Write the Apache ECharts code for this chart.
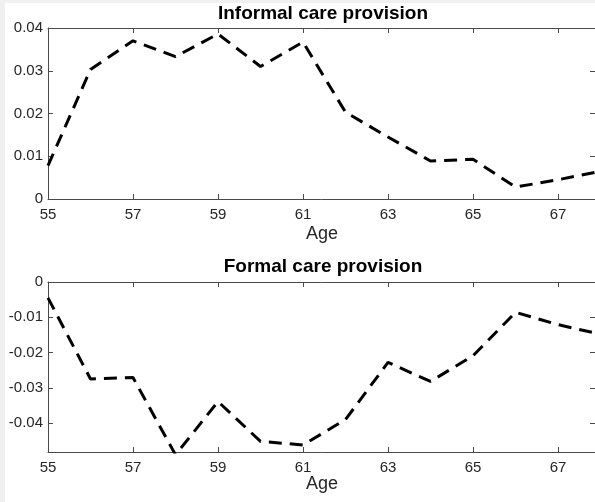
<!DOCTYPE html>
<html><head><meta charset="utf-8">
<script src="https://cdn.jsdelivr.net/npm/echarts@6/dist/echarts.min.js"></script>
<style>html,body{margin:0;padding:0;background:#f0f0f0;width:595px;height:502px;overflow:hidden}
#c{position:absolute;left:5px;top:3px;width:590px;height:499px;background:#fff}</style>
</head><body><div id="c"></div><script>
const ages = [55, 56, 57, 58, 59, 60, 61, 62, 63, 64, 65, 66, 67, 68];
const informal = [0.0078, 0.0303, 0.0370, 0.0333, 0.0386, 0.0310, 0.0367, 0.0203, 0.0145, 0.0089, 0.0093, 0.0028, 0.0045, 0.0065];
const formal = [-0.0045, -0.0275, -0.0271, -0.0490, -0.0339, -0.0452, -0.0462, -0.0390, -0.0228, -0.0282, -0.0209, -0.0086, -0.0121, -0.0148];
const xTicks = [55, 57, 59, 61, 63, 65, 67];
const yTicksTop = [0, 0.01, 0.02, 0.03, 0.04];
const yTicksBottom = [-0.04, -0.03, -0.02, -0.01, 0];
const titles = ['Informal care provision', 'Formal care provision'];
const xName = 'Age';

const FONT = '"Liberation Sans", Arial, Helvetica, sans-serif';
const axisCol = '#4a4a4a';
const labelCol = '#262626';
const fmtY = v => (Math.abs(v) < 1e-9 ? '0' : String(+v.toFixed(2)));

function xAx(grid, pos, showLabel) {
  return {
    type: 'value', gridIndex: grid, position: pos, min: 55, max: 67.87,
    axisLine: {show: true, onZero: false, lineStyle: {color: axisCol, width: 1}},
    axisTick: {show: true, inside: true, length: 5, customValues: xTicks, lineStyle: {color: axisCol}},
    axisLabel: {show: showLabel, customValues: xTicks, margin: 8, color: labelCol, fontSize: 15, fontFamily: FONT},
    splitLine: {show: false}
  };
}
function yAx(grid, pos, min, max, ticks, showLabel) {
  return {
    type: 'value', gridIndex: grid, position: pos, min: min, max: max,
    axisLine: {show: true, onZero: false, lineStyle: {color: axisCol, width: 1}},
    axisTick: {show: true, inside: true, length: 5, customValues: ticks, lineStyle: {color: axisCol}},
    axisLabel: {show: showLabel, customValues: ticks, margin: 5, color: labelCol, fontSize: 15, fontFamily: FONT, formatter: fmtY},
    splitLine: {show: false}
  };
}
const lineStyle = {color: '#000', width: 3, type: [13, 8]};
const chart = echarts.init(document.getElementById('c'), null, {renderer: 'canvas'});
chart.setOption({
  animation: false,
  grid: [
    {left: 43, top: 25, right: 0, height: 171},
    {left: 43, top: 279, right: 0, height: 170}
  ],
  xAxis: [xAx(0, 'bottom', true), xAx(0, 'top', false), xAx(1, 'bottom', true), xAx(1, 'top', false)],
  yAxis: [yAx(0, 'left', 0, 0.04, yTicksTop, true), yAx(0, 'right', 0, 0.04, yTicksTop, false),
          yAx(1, 'left', -0.0482, 0, yTicksBottom, true), yAx(1, 'right', -0.0482, 0, yTicksBottom, false)],
  series: [
    {type: 'line', xAxisIndex: 0, yAxisIndex: 0, data: ages.map((a, i) => [a, informal[i]]), showSymbol: false, lineStyle: lineStyle, clip: true},
    {type: 'line', xAxisIndex: 2, yAxisIndex: 2, data: ages.map((a, i) => [a, formal[i]]), showSymbol: false, lineStyle: lineStyle, clip: true}
  ],
  graphic: [
    {type: 'text', x: 318, y: 11, style: {text: titles[0], font: 'bold 19px ' + FONT, fill: '#000', textAlign: 'center', textVerticalAlign: 'middle'}},
    {type: 'text', x: 317, y: 231, style: {text: xName, font: '18px ' + FONT, fill: labelCol, textAlign: 'center', textVerticalAlign: 'middle'}},
    {type: 'text', x: 318, y: 264, style: {text: titles[1], font: 'bold 19px ' + FONT, fill: '#000', textAlign: 'center', textVerticalAlign: 'middle'}},
    {type: 'text', x: 317, y: 481, style: {text: xName, font: '18px ' + FONT, fill: labelCol, textAlign: 'center', textVerticalAlign: 'middle'}}
  ]
});
</script></body></html>
